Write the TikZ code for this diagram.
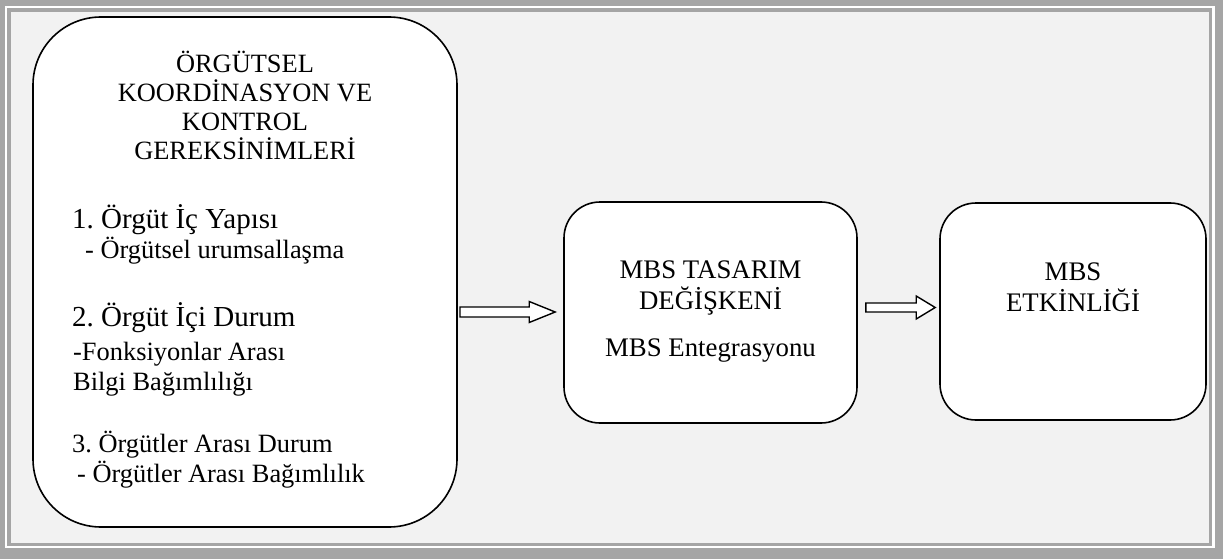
\documentclass[tikz,border=0pt]{standalone}
\usepackage{fontspec}
\setmainfont{Liberation Serif}
\usetikzlibrary{calc}
\definecolor{framegray}{HTML}{A5A5A5}
\definecolor{bgpanel}{HTML}{F2F2F2}
\tikzset{
  roundbox/.style={draw=black, fill=white, line width=1.6pt, inner sep=0pt},
  txt/.style={inner sep=0pt, anchor=base},
  txtl/.style={inner sep=0pt, anchor=base west},
  blockarr/.style={draw=black, fill=white, line width=1.4pt, line join=miter},
}
\newcommand{\fsA}{\fontsize{26.4}{29}\selectfont}
\newcommand{\fsB}{\fontsize{29}{32}\selectfont}
\newcommand{\fsC}{\fontsize{26.8}{30}\selectfont}
\frenchspacing
\begin{document}
\begin{tikzpicture}[x=1pt,y=-1pt]
\useasboundingbox (0,0) rectangle (1223,559);
% frame
\fill[framegray] (0,0) rectangle (1223,559);
\fill[white] (5,6) rectangle (1215,548);
\fill[framegray] (7,8) rectangle (1212,546);
\fill[bgpanel] (11,12) rectangle (1209,543);
% boxes
\draw[roundbox, rounded corners=68pt] (33,17) rectangle (457,527);
\node[roundbox, rounded corners=36pt, minimum width=293pt, minimum height=221pt] (mid) at (710.5,312.5) {};
\node[roundbox, rounded corners=36pt, minimum width=266pt, minimum height=217pt] (right) at (1073,311.5) {};
\coordinate (leftE) at (457,312);
% left box text
\node[txt, font=\fsA] (l1) at (245,72.7) {ÖRGÜTSEL};
\node[txt, font=\fsA] (l2) at (245,101.7) {KOORDİNASYON VE};
\node[txt, font=\fsA] (l3) at (245,130.5) {KONTROL};
\node[txt, font=\fsA] (l4) at (245,159.5) {GEREKSİNİMLERİ};
\node[txtl, font=\fsB] (i1) at (72,228) {1. Örgüt İç Yapısı};
\node[txtl, font=\fsA] (i1a) at (85,258) {- Örgütsel urumsallaşma};
\node[txtl, font=\fsB] (i2) at (72,326) {2. Örgüt İçi Durum};
\node[txtl, font=\fsA] (i2a) at (73,360) {-Fonksiyonlar Arası};
\node[txtl, font=\fsA] (i2b) at (73,390) {Bilgi Bağımlılığı};
\node[txtl, font=\fsA] (i3) at (72,452) {3. Örgütler Arası Durum};
\node[txtl, font=\fsA] (i3a) at (77,482) {- Örgütler Arası Bağımlılık};
% middle text
\node[txt, font=\fsC] (m1) at (710.5,278) {MBS TASARIM};
\node[txt, font=\fsC] (m2) at (710.5,309) {DEĞİŞKENİ};
\node[txt, font=\fsC] (m3) at (710.5,356) {MBS Entegrasyonu};
% right text
\node[txt, font=\fsC] (r1) at (1073,280) {MBS};
\node[txt, font=\fsC] (r2) at (1073,311) {ETKİNLİĞİ};
% arrows
\coordinate (a1from) at ($(leftE)+(3,0)$);
\coordinate (a1to) at ($(mid.west |- leftE)+(-8,0)$);
\draw[blockarr] ($(a1from)+(0,-5)$) -- ($(a1to)+(-26,-5)$) -- ($(a1to)+(-26,-10.5)$) -- (a1to)
  -- ($(a1to)+(-26,10.5)$) -- ($(a1to)+(-26,5)$) -- ($(a1from)+(0,5)$) -- cycle;
\coordinate (a2from) at ($(mid.east)+(8,-5)$);
\coordinate (a2to) at ($(right.west)+(-4,-4)$);
\draw[blockarr] ($(a2from)+(0,-4.5)$) -- ($(a2to)+(-19,-4.5)$) -- ($(a2to)+(-19,-11.5)$) -- (a2to)
  -- ($(a2to)+(-19,11.5)$) -- ($(a2to)+(-19,4.5)$) -- ($(a2from)+(0,4.5)$) -- cycle;
\end{tikzpicture}
\end{document}
